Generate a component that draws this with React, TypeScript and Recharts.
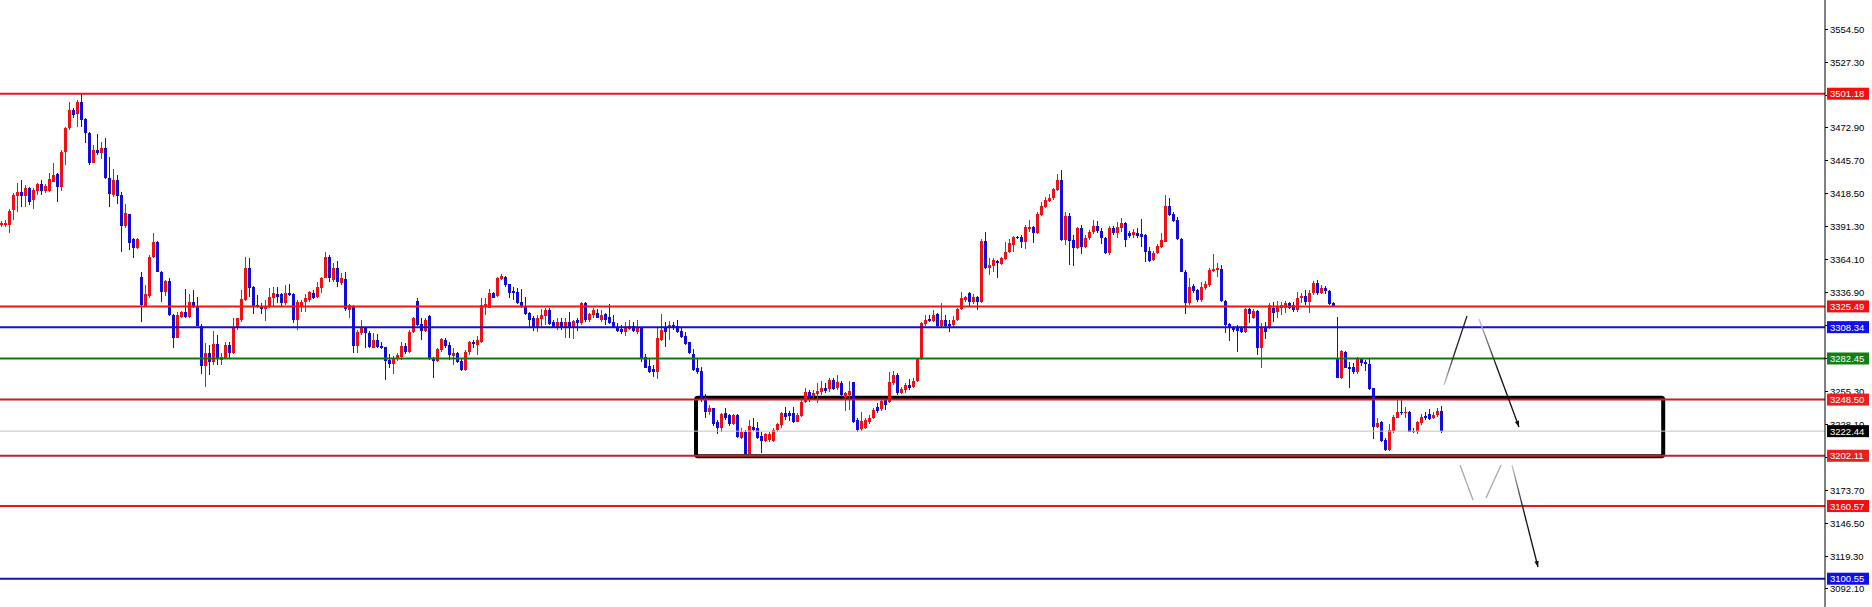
import React from 'react';
import { ComposedChart, Bar, XAxis, YAxis, ReferenceLine, ReferenceArea } from 'recharts';

// open, high, low, close
type Candle = [number, number, number, number];

const CANDLES_A: Candle[] = [
  [3393, 3396, 3391, 3394], [3393, 3397, 3391, 3394], [3393, 3406, 3386, 3404.3], [3405.2, 3418.9, 3396.9, 3417.5],
  [3417, 3427.2, 3403.8, 3419.8], [3419.8, 3430, 3408, 3417], [3417, 3425.8, 3408, 3423.6], [3423.6, 3424.4, 3409.3, 3412],
  [3413.4, 3423, 3406, 3421.7], [3420.9, 3427.2, 3417.5, 3426.4], [3426.4, 3430, 3417.5, 3420.9], [3420.9, 3426.4, 3419, 3425.3],
  [3420.9, 3435.4, 3419.8, 3430.8], [3428.6, 3443.7, 3428.6, 3434.1], [3434.6, 3435.4, 3411.5, 3424.4], [3424.4, 3454.7, 3420.9, 3453.3],
  [3452.8, 3474, 3442.3, 3473.2], [3472.6, 3494.6, 3471.2, 3487.8], [3487.8, 3489.1, 3480.9, 3483.6], [3484.2, 3496, 3474, 3494.6],
  [3494.6, 3501.2, 3474, 3479.5], [3480, 3480.9, 3460.2, 3468.5], [3468.5, 3469.9, 3442.3, 3443.7], [3443.7, 3458.8, 3443.7, 3454.7],
  [3454.7, 3467.7, 3450.6, 3452], [3452, 3461, 3447.3, 3456.6], [3456.6, 3464.9, 3430.8, 3431.3], [3431.3, 3449.2, 3408, 3418.1],
  [3417.5, 3439, 3416.2, 3430], [3430, 3434.1, 3409.8, 3417], [3417.5, 3420.3, 3370.8, 3392.2], [3392.2, 3409.8, 3390, 3402.4],
  [3401.9, 3401.9, 3372.1, 3377.6], [3381.2, 3382.3, 3365.8, 3373.5], [3373.5, 3382.3, 3373, 3381.2], [3350.1, 3354.2, 3312.4, 3326.7],
  [3326.2, 3343.2, 3325.3, 3335.5], [3334.4, 3368, 3332.8, 3366.6], [3366.6, 3385.9, 3365.8, 3379], [3379, 3379.6, 3353.7, 3354.2],
  [3354.2, 3354.8, 3329.5, 3337.7], [3337.7, 3347.3, 3334.4, 3346.5], [3346.5, 3349.3, 3317.9, 3318.4], [3318.4, 3319, 3290.9, 3299.7],
  [3299.7, 3321.2, 3299.5, 3318.4], [3317, 3321.7, 3315.7, 3320.6], [3320.6, 3339.9, 3316.2, 3317], [3317, 3335.5, 3315.7, 3329.5],
  [3329.5, 3339.1, 3324.5, 3325.3], [3325.3, 3333.6, 3309.3, 3309.6], [3309.6, 3310.7, 3269.4, 3276.6], [3276.6, 3295, 3259.3, 3286.8],
  [3286.8, 3293.7, 3268.9, 3279.4], [3279.9, 3305.2, 3277.2, 3294.2], [3294.2, 3301.9, 3277.2, 3282.1], [3281.3, 3286.8, 3277.2, 3284],
  [3283.2, 3296.4, 3282.7, 3293.7], [3293.7, 3296.4, 3282.7, 3286.8], [3286.8, 3315.7, 3286.5, 3307.4], [3307.4, 3315.9, 3306, 3315.7],
  [3314.3, 3339.1, 3312.4, 3331.7], [3330.8, 3366.6, 3330, 3357.5], [3357.5, 3365.2, 3333.6, 3340.5], [3341.8, 3342.4, 3319, 3325.3],
  [3326.7, 3335, 3324.5, 3325.3], [3325.3, 3328.1, 3319, 3323.4], [3323.4, 3330.8, 3313.5, 3326.2], [3325.3, 3341, 3324.5, 3333.6],
  [3332.2, 3341.8, 3325.3, 3336.3], [3335.5, 3341.8, 3328.1, 3333.6], [3335.5, 3336.3, 3325.3, 3328.1], [3328.1, 3343.2, 3326.7, 3336.3],
  [3336.3, 3344, 3334.4, 3335], [3335.5, 3336.3, 3311.6, 3314.3], [3314.3, 3330.8, 3306, 3329.5],
];

const CANDLES_B: Candle[] = [
  [3325.3, 3330.8, 3321.2, 3329.5], [3328.9, 3335.5, 3321.2, 3332.2], [3330.8, 3338.3, 3329.5, 3337.7], [3336.3, 3339.1, 3331.7, 3332.8],
  [3333.6, 3346, 3332.2, 3341.8], [3341, 3350.1, 3336.3, 3348.7], [3349.3, 3370.8, 3348.7, 3366.6], [3366.6, 3368, 3346, 3348.7],
  [3347.3, 3361.1, 3346, 3357.5], [3357.5, 3363, 3341.8, 3345.4], [3344.6, 3352.9, 3343.2, 3348.7], [3348.2, 3353.7, 3321.7, 3323.4],
  [3322.6, 3327.3, 3315.7, 3326.7], [3326.2, 3326.7, 3286.8, 3293.1], [3293.1, 3306, 3286.8, 3304.7], [3303.3, 3314.3, 3301.9, 3307.4],
  [3308, 3308.8, 3290.9, 3303.3], [3303.3, 3305.2, 3290.9, 3292.3], [3291.5, 3303.3, 3290.9, 3297.8], [3297.8, 3302.5, 3290.9, 3292.3],
  [3293.1, 3296.4, 3290.4, 3290.9], [3292.3, 3292.3, 3264.8, 3280.4], [3281.3, 3286, 3274.4, 3277.7], [3277.7, 3284.9, 3269.4, 3283.2],
  [3282.1, 3286.8, 3280.4, 3285.4], [3284, 3295.9, 3281.3, 3293.1], [3293.1, 3295, 3286, 3287.6], [3287.6, 3306, 3286.8, 3304.7],
  [3304.7, 3317, 3303.3, 3315.7], [3330, 3332.2, 3309.6, 3310.2], [3310.7, 3315.7, 3297.8, 3305.2], [3305.2, 3315.7, 3304.1, 3314.3],
  [3317.9, 3318.4, 3281.3, 3282.1], [3282.7, 3284, 3266.7, 3280.4], [3280.4, 3290.9, 3279.9, 3290.4], [3289.5, 3299.7, 3288.2, 3298.6],
  [3297.8, 3299.7, 3290.9, 3293.1], [3293.7, 3296.4, 3281.3, 3285.4], [3284.9, 3290.9, 3277.2, 3286.8], [3286.8, 3288.2, 3278.5, 3279.9],
  [3280.4, 3282.7, 3272.2, 3273], [3273, 3289.5, 3272.2, 3288.2], [3287.6, 3297, 3285.4, 3295.9], [3295.9, 3297.8, 3290.9, 3294.2],
  [3293.7, 3301.4, 3285.4, 3297.8], [3295.9, 3332.2, 3295, 3326.7], [3325.3, 3332.2, 3318.4, 3327.3], [3324.5, 3339.9, 3323.9, 3336.3],
  [3336.3, 3337.7, 3332.2, 3332.8], [3334.4, 3350.1, 3333.6, 3348.7], [3348.2, 3352, 3347.3, 3350.9], [3350.1, 3350.9, 3341.8, 3343.2],
  [3343.8, 3343.8, 3332.2, 3336.3], [3338.3, 3341.8, 3330.8, 3336.3], [3337.7, 3340.5, 3327.3, 3328.1], [3328.9, 3339.9, 3324.5, 3325.3],
  [3325.3, 3333.6, 3318.4, 3319], [3319.8, 3320.6, 3308, 3314.3], [3316.2, 3317.9, 3305.2, 3308], [3308, 3318.4, 3304.1, 3315.7],
  [3315.1, 3323.4, 3308, 3318.4], [3317.9, 3323.9, 3310.2, 3322.6], [3322.6, 3323.9, 3310.2, 3310.7], [3312.9, 3314.3, 3308, 3308.8],
  [3308.8, 3315.7, 3306, 3312.9], [3312.4, 3315.7, 3306, 3308.8], [3308.8, 3315.7, 3299.7, 3312.9], [3312.9, 3320.6, 3299.7, 3308.8],
  [3308.8, 3314.3, 3298.6, 3313.5], [3314.3, 3315.7, 3305.2, 3311.6], [3311.6, 3329.5, 3310.2, 3328.1], [3328.1, 3329.5, 3312.4, 3314.3],
  [3314.3, 3319.8, 3312.4, 3319],
];

const CANDLES_C: Candle[] = [
  [3318.4, 3323.9, 3315.7, 3322.6], [3319.8, 3323.4, 3315.7, 3316.2], [3314.3, 3322.6, 3312.9, 3318.4], [3319, 3319.8, 3310.2, 3314.3],
  [3317, 3327.3, 3310.7, 3311.6], [3312.4, 3318.4, 3307.4, 3308], [3308.8, 3311.6, 3304.7, 3305.2], [3306.9, 3310.2, 3302.5, 3304.1],
  [3304.1, 3312.4, 3301.4, 3308.8], [3306.9, 3314.3, 3306, 3309.6], [3309.6, 3312.9, 3304.1, 3305.2], [3304.7, 3314.3, 3302.5, 3307.4],
  [3307.4, 3308, 3279.4, 3282.7], [3284, 3286, 3274.4, 3274.9], [3276.6, 3282.7, 3270.3, 3271.6], [3273.8, 3277.2, 3267.5, 3271.1],
  [3271.6, 3307.4, 3265.6, 3299.2], [3297.8, 3319, 3297, 3306], [3308.8, 3312.9, 3292.3, 3304.7], [3308, 3313.5, 3297.8, 3310.2],
  [3310.2, 3312.4, 3306, 3307.4], [3309.6, 3314.3, 3303.3, 3304.7], [3305.2, 3307.4, 3299.2, 3300.5], [3301.4, 3304.7, 3293.7, 3294.2],
  [3295.9, 3296.4, 3286, 3286.8], [3286, 3290.4, 3272.2, 3273], [3274.4, 3283.2, 3269.4, 3271.1], [3272.2, 3275.8, 3246.3, 3249.6],
  [3249.6, 3252.9, 3233.7, 3238.1], [3238.1, 3244.1, 3235.9, 3241.9], [3241.4, 3241.9, 3227, 3228.1], [3229.8, 3231.7, 3219.9, 3224.8],
  [3224.8, 3237.2, 3222.1, 3236.4], [3237.2, 3241.9, 3231.7, 3233.7], [3235.9, 3236.4, 3227, 3228.1], [3228.1, 3236.4, 3227.6, 3235.9],
  [3235.9, 3236.4, 3216.6, 3218], [3217.1, 3224.8, 3216.1, 3222.1], [3222.1, 3223.5, 3202.3, 3203.4], [3203.4, 3231.7, 3202.8, 3227],
  [3226.2, 3233.1, 3222.6, 3223.5], [3224.8, 3230.4, 3216.1, 3217.1], [3218.8, 3222.1, 3204.2, 3214.4], [3214.4, 3220.7, 3213.3, 3219.9],
  [3215.2, 3222.1, 3213.8, 3219.9], [3214.4, 3224.8, 3213.3, 3223.5], [3223.5, 3229, 3222.1, 3228.1], [3227.6, 3238.6, 3224.8, 3237.2],
  [3237.2, 3242.7, 3231.7, 3234.5], [3237.2, 3239.2, 3230.9, 3235.3], [3237.2, 3242.7, 3229, 3230.4], [3230.4, 3237.2, 3229.8, 3235.9],
  [3235.3, 3249.6, 3234.5, 3246.9], [3246.3, 3257.9, 3245.5, 3254.6], [3254.6, 3256.5, 3246.9, 3251], [3251.8, 3256.5, 3249.6, 3253.8],
  [3252.9, 3262, 3245.5, 3255.7], [3254.6, 3264, 3252.4, 3257.9], [3258.4, 3262, 3253.8, 3255.7], [3257.3, 3266.1, 3255.1, 3264.8],
  [3264.8, 3266.1, 3256.5, 3257.3], [3257.9, 3268.9, 3256.5, 3262.8], [3262, 3264, 3251, 3252.4], [3251, 3255.1, 3239.2, 3253.8],
  [3252.4, 3264, 3240, 3255.7], [3262.8, 3263.4, 3229, 3229.8], [3231.7, 3233.1, 3221.5, 3223.5], [3224.3, 3238.6, 3222.6, 3230.9],
  [3225.4, 3233.1, 3224.3, 3231.7], [3229.8, 3235.9, 3228.1, 3233.7], [3233.1, 3241.9, 3232.5, 3240], [3242.7, 3245.5, 3237.2, 3239.2],
  [3240.8, 3248.2, 3239.2, 3247.4], [3248.2, 3249.6, 3240, 3244.1],
];

const CANDLES_D: Candle[] = [
  [3246.9, 3271.1, 3245.5, 3263.4], [3262, 3272.2, 3260.6, 3268.9], [3268.9, 3270.3, 3252.4, 3253.8], [3253.8, 3259.3, 3252.9, 3257.3],
  [3256.5, 3262, 3253.8, 3260.6], [3260.6, 3265.6, 3256.5, 3257.9], [3259.3, 3266.1, 3257.9, 3264], [3264, 3283.2, 3262.8, 3282.7],
  [3282.1, 3312.4, 3281.3, 3311.6], [3310.7, 3318.4, 3309.6, 3314.3], [3315.1, 3318.4, 3312.4, 3313.5], [3313.5, 3322.6, 3312.9, 3318.4],
  [3319, 3319.8, 3308.8, 3309.6], [3309.6, 3328.1, 3308.8, 3314.3], [3314.3, 3318.4, 3307.4, 3309.6], [3310.7, 3314.3, 3304.7, 3309],
  [3310.2, 3317.9, 3308.8, 3314.3], [3314.3, 3323.9, 3313.5, 3323.4], [3323.4, 3337.7, 3322.6, 3332.2], [3330.8, 3334.4, 3329.5, 3333.6],
  [3336.3, 3337.7, 3326.2, 3329.5], [3329.5, 3335.5, 3327.3, 3333.6], [3333.6, 3334.4, 3322.6, 3328.9], [3328.9, 3381.2, 3328.1, 3379.6],
  [3379.6, 3387.3, 3356.4, 3357.5], [3357.5, 3365.2, 3351.5, 3359.7], [3359.2, 3365.8, 3354.2, 3363.9], [3363, 3363.9, 3349.3, 3361.1],
  [3360.3, 3366.6, 3359.7, 3365.2], [3364.7, 3379, 3363.9, 3370.8], [3370.2, 3381.2, 3369.4, 3377.6], [3376.3, 3384, 3370.8, 3383.1],
  [3383.1, 3384, 3381.2, 3381.8], [3383.1, 3384.5, 3374, 3379], [3379, 3392.8, 3373, 3391.4], [3389.5, 3396.9, 3387.3, 3391.4],
  [3391.4, 3392.2, 3377.6, 3385.9], [3385.9, 3403.2, 3385.1, 3401.6], [3401, 3412, 3400.5, 3408.7], [3407.9, 3416.2, 3407.1, 3413.4],
  [3412.6, 3418.1, 3412, 3415.3], [3414.8, 3423.6, 3413.4, 3422.5], [3421.7, 3434.6, 3420.9, 3430], [3430, 3438.2, 3379.6, 3380.4],
  [3380.4, 3403.2, 3376.3, 3400.5], [3400.5, 3402.4, 3359.7, 3379.6], [3380.4, 3384.5, 3359.2, 3374], [3374, 3391.4, 3373, 3390.6],
  [3390.6, 3392.8, 3368.5, 3374.9], [3374.9, 3384.5, 3373.5, 3382.3], [3381.8, 3388.6, 3380.4, 3387.3], [3386.7, 3396.9, 3385.1, 3392.2],
  [3392.2, 3396.1, 3385.9, 3387.8], [3387.8, 3390, 3376.8, 3381.8], [3382.3, 3383.1, 3368.5, 3369.4], [3369.4, 3392.2, 3368, 3390.6],
  [3390.6, 3392.2, 3384.5, 3385.9], [3385.9, 3395, 3381.8, 3391.4], [3390.6, 3398.3, 3387.3, 3394.1], [3394.1, 3395.5, 3374.9, 3380.4],
  [3385.9, 3387.8, 3381.8, 3384], [3384.5, 3389.5, 3382.3, 3387.3], [3385.9, 3390, 3382.3, 3384], [3385.1, 3397.7, 3374.9, 3383.1],
  [3384.5, 3385.1, 3362.5, 3370.8], [3371.3, 3374.9, 3362.5, 3363], [3363.9, 3371.3, 3363, 3369.4], [3369.4, 3376.8, 3368.5, 3375.7],
  [3374.9, 3385.9, 3374, 3380.4], [3379, 3417.5, 3378.5, 3408.7], [3408.7, 3414.8, 3400.5, 3401], [3401.6, 3403.8, 3395.5, 3396.1],
  [3396.9, 3399.6, 3380.4, 3381.2], [3381.2, 3382.3, 3353.7, 3354.2],
];

const CANDLES_E: Candle[] = [
  [3354.2, 3355.6, 3319, 3328.1], [3328.1, 3349.3, 3326.7, 3341.8], [3342.4, 3343.8, 3336.3, 3338.3], [3339.1, 3339.9, 3329.5, 3330.8],
  [3330.8, 3346, 3329.5, 3341.8], [3341, 3346.5, 3339.1, 3343.8], [3343.2, 3357.5, 3341.8, 3355.6], [3354.8, 3368.5, 3354.2, 3356.4],
  [3355.6, 3361.1, 3350.1, 3357.5], [3356.4, 3359.7, 3329.5, 3330], [3330, 3330.8, 3303.3, 3310.2], [3310.7, 3311.6, 3297, 3307.4],
  [3308, 3309.6, 3304.7, 3306], [3308.8, 3310.2, 3288.2, 3305.2], [3307.4, 3309.6, 3303.3, 3304.1], [3304.1, 3324.5, 3303.3, 3323.4],
  [3323.4, 3323.9, 3311.6, 3319], [3315.7, 3323.4, 3315.1, 3321.7], [3321.7, 3322.6, 3285.4, 3290.9], [3290.9, 3311.6, 3274.4, 3308],
  [3308, 3312.9, 3298.6, 3304.7], [3308, 3328.1, 3306.9, 3326.7], [3324.5, 3329.5, 3312.4, 3319.8], [3321.2, 3330, 3315.7, 3326.2],
  [3324.5, 3329.5, 3318.4, 3326.7], [3324.5, 3330, 3319.8, 3328.1], [3328.1, 3329.5, 3323.4, 3324.5], [3326.7, 3329.5, 3321.2, 3322.6],
  [3322.6, 3337.2, 3321.2, 3332.8], [3332.2, 3336.3, 3328.1, 3334.4], [3334.4, 3339.1, 3326.7, 3328.9], [3328.9, 3339.1, 3319.8, 3336.3],
  [3336.3, 3346.5, 3335, 3344.6], [3344.6, 3347.3, 3335, 3336.3], [3336.3, 3343.2, 3335.5, 3341], [3341, 3342.4, 3335.5, 3338.3],
  [3338.3, 3339.1, 3326.7, 3327.3], [3328.1, 3329.5, 3325.3, 3326.2], [3282.7, 3317, 3266.1, 3266.7], [3266.1, 3289.5, 3265.6, 3288.7],
  [3288.2, 3288.7, 3274.4, 3274.9], [3275.8, 3279.9, 3257.9, 3273.8], [3275.8, 3278.5, 3269.4, 3271.1], [3271.1, 3284, 3269.4, 3282.1],
  [3282.1, 3282.7, 3276.6, 3278.5], [3279.9, 3281.3, 3272.2, 3277.7], [3277.7, 3282.1, 3256.5, 3257.3], [3257.9, 3258.4, 3216.1, 3226.2],
  [3226.2, 3233.7, 3224.8, 3229], [3229.8, 3230.9, 3213.3, 3214.4], [3215.2, 3216.6, 3206.1, 3206.9], [3206.9, 3228.1, 3206.1, 3223.5],
  [3222.6, 3235.9, 3220.7, 3234.5], [3233.7, 3248.2, 3233.1, 3238.1], [3238.1, 3248.2, 3235.9, 3237.2], [3237.2, 3242.7, 3233.1, 3238.6],
  [3238.6, 3239.2, 3221.5, 3222.1], [3222.6, 3224.8, 3220.7, 3221.5], [3221.5, 3230.9, 3219.9, 3229.8], [3229, 3236.4, 3227.6, 3234.5],
  [3235.3, 3238.6, 3231.7, 3233.1], [3236.4, 3240.8, 3231.7, 3232.5], [3233.1, 3238.1, 3232.5, 3235.9], [3235.9, 3241.9, 3234.5, 3239.2],
  [3239.2, 3243.5, 3220.7, 3222.44],
];

const CANDLES: Candle[] = [...CANDLES_A, ...CANDLES_B, ...CANDLES_C, ...CANDLES_D, ...CANDLES_E];

// horizontal levels drawn on the chart
const LEVELS = [3501.18, 3325.49, 3308.34, 3282.45, 3248.5, 3202.11, 3160.57, 3100.55];
const LAST_PRICE = 3222.44;

// price scale ticks
const PRICE_TICKS = [
  3092.1, 3119.3, 3146.5, 3173.7, 3200.9, 3228.1, 3255.3, 3282.5, 3309.7,
  3336.9, 3364.1, 3391.3, 3418.5, 3445.7, 3472.9, 3500.1, 3527.3, 3554.5,
];

// box drawn around the range: bar index from/to, price bottom/top
const RANGE_BOX = [173.5, 415.3, 3201.7, 3250.1];

// hand drawn projection lines: [bar1, price1, bar2, price2]
const SKETCH = [
  [360.5, 3260.6, 366.25, 3317.6],
  [369.25, 3315.1, 379.25, 3225.9],
  [364.5, 3194.5, 367.75, 3165.6],
  [371, 3167.2, 374.75, 3194.5],
  [377.5, 3194.5, 384, 3110.2],
];

const LEVEL_COLORS = ['#e01818', '#e81818', '#1212c0', '#0a7a0a', '#c8202a', '#c8202a', '#e81818', '#1212c0'];
const TAG_COLORS = ['#f01010', '#f01010', '#1010e8', '#108010', '#e82020', '#e82020', '#f01010', '#1010e8'];
const SKETCH_STYLE = [
  { from: '#c8c8c8', to: '#202020', arrow: false },
  { from: '#c8c8c8', to: '#101010', arrow: true },
  { from: '#a8a8a8', to: '#a8a8a8', arrow: false },
  { from: '#a8a8a8', to: '#a8a8a8', arrow: false },
  { from: '#c8c8c8', to: '#101010', arrow: true },
];

const UP = '#f01010';
const DOWN = '#0d0de0';
const FONT = '"Liberation Sans", Arial, sans-serif';
const PLOT_RIGHT = 1825;

const data = CANDLES.map(([o, h, l, c], i) => {
  const hi = Math.max(h, o, c);
  const lo = Math.min(l, o, c);
  return { i, o, c, h: hi, l: lo, range: [lo, hi] };
});

// scale ticks first, price tags last so the tags are drawn over the labels
const TAG_VALUES = [...LEVELS, LAST_PRICE];
const AXIS_TICKS = [...PRICE_TICKS, ...TAG_VALUES];
const tagColor = (v: number) => {
  const k = LEVELS.indexOf(v);
  return k >= 0 ? TAG_COLORS[k] : '#000';
};

function CandleShape(props: any) {
  const { x, y, width, height, payload } = props;
  if (!payload) return null;
  const { o, c, h, l } = payload;
  const top = Math.min(y, y + height);
  const hgt = Math.abs(height);
  const span = h - l;
  const py = (v: number) => (span > 0 ? top + ((h - v) / span) * hgt : top);
  const color = c >= o ? UP : DOWN;
  const bx = Math.round(x + width / 2 - 1.5);
  const b1 = Math.round(py(Math.max(o, c)));
  const b2 = Math.round(py(Math.min(o, c)));
  return (
    <g shapeRendering="crispEdges">
      <line x1={bx + 1.5} x2={bx + 1.5} y1={top} y2={top + hgt} stroke={color} strokeWidth={1} />
      <rect x={bx} y={b1} width={3} height={Math.max(1, b2 - b1)} fill={color} />
    </g>
  );
}

function AxisTick(props: any) {
  const { y, payload, index } = props;
  const v = payload.value;
  if (index >= PRICE_TICKS.length) {
    const x = PLOT_RIGHT + 2;
    return (
      <g>
        <rect x={x} y={y - 6} width={42} height={12} fill={tagColor(v)} />
        <text x={x + 3} y={y + 3.5} fill="#fff" fontSize={9.5} fontFamily={FONT}>
          {v.toFixed(2)}
        </text>
      </g>
    );
  }
  return (
    <g>
      <line x1={PLOT_RIGHT} x2={PLOT_RIGHT + 3} y1={y} y2={y} stroke="#000" shapeRendering="crispEdges" />
      <text x={PLOT_RIGHT + 5} y={y + 3.5} fill="#000" fontSize={9.5} fontFamily={FONT}>
        {v.toFixed(2)}
      </text>
    </g>
  );
}

function sketchShape(idx: number) {
  const st = SKETCH_STYLE[idx];
  return (props: any) => {
    const { x1, y1, x2, y2 } = props;
    const id = `sk${idx}`;
    const dx = x2 - x1;
    const dy = y2 - y1;
    const len = Math.sqrt(dx * dx + dy * dy) || 1;
    const ux = dx / len;
    const uy = dy / len;
    const ah = 6;
    const aw = 2.2;
    const bx = x2 - ux * ah;
    const by = y2 - uy * ah;
    return (
      <g>
        <defs>
          <linearGradient id={id} gradientUnits="userSpaceOnUse" x1={x1} y1={y1} x2={x2} y2={y2}>
            <stop offset="0%" stopColor={st.from} />
            <stop offset="45%" stopColor={st.to} />
            <stop offset="100%" stopColor={st.to} />
          </linearGradient>
        </defs>
        <line x1={x1} y1={y1} x2={x2} y2={y2} stroke={`url(#${id})`} strokeWidth={1.3} />
        {st.arrow && (
          <polygon
            points={`${x2},${y2} ${bx - uy * aw},${by + ux * aw} ${bx + uy * aw},${by - ux * aw}`}
            fill={st.to}
          />
        )}
      </g>
    );
  };
}

function BoxShape(props: any) {
  const { x, y, width, height } = props;
  return <rect x={x} y={y} width={width} height={height} rx={2} fill="none" stroke="#000" strokeWidth={4} />;
}

export default function App() {
  return (
    <div style={{ position: 'absolute', left: 0, top: 0, background: '#fff' }}>
      <ComposedChart width={1872} height={607} data={data} margin={{ top: 0, right: 0, bottom: 0, left: 0 }}>
        <XAxis type="number" dataKey="i" domain={[-0.5, 455.75]} allowDataOverflow hide />
        <YAxis
          orientation="right"
          width={47}
          domain={[3077.18, 3578.58]}
          allowDataOverflow
          ticks={AXIS_TICKS}
          interval={0}
          tick={AxisTick}
          tickLine={false}
          axisLine={{ stroke: '#000' }}
        />
        <ReferenceLine y={LAST_PRICE} stroke="#c4c4c4" strokeWidth={1} />
        {LEVELS.map((v, k) => (
          <ReferenceLine key={v} y={v} stroke={LEVEL_COLORS[k]} strokeWidth={2} />
        ))}
        <Bar dataKey="range" barSize={3} shape={CandleShape} isAnimationActive={false} />
        <ReferenceArea
          x1={RANGE_BOX[0]}
          x2={RANGE_BOX[1]}
          y1={RANGE_BOX[2]}
          y2={RANGE_BOX[3]}
          shape={BoxShape}
        />
        {SKETCH.map((s, k) => (
          <ReferenceLine
            key={k}
            segment={[{ x: s[0], y: s[1] }, { x: s[2], y: s[3] }]}
            shape={sketchShape(k)}
          />
        ))}
      </ComposedChart>
    </div>
  );
}
